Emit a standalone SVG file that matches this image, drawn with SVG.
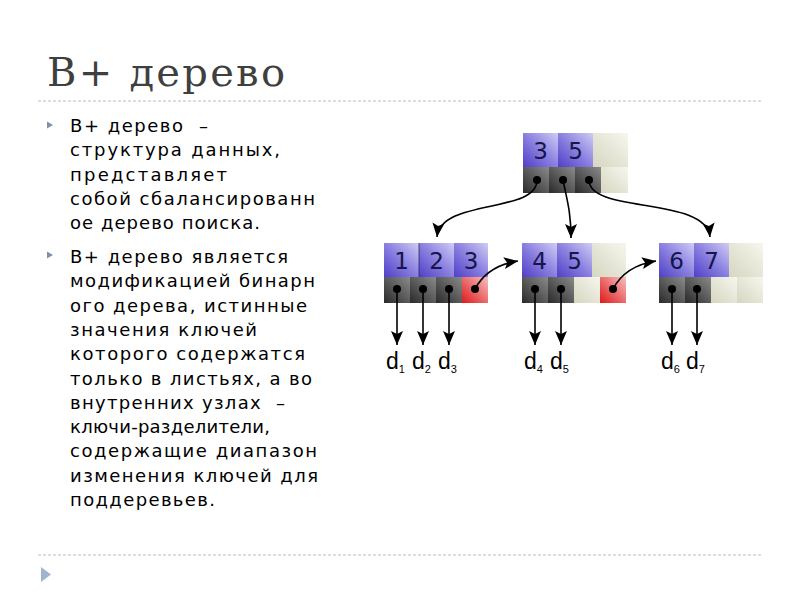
<svg xmlns="http://www.w3.org/2000/svg" width="800" height="600" viewBox="0 0 800 600">
<defs>
<linearGradient id="gKey" x1="0" y1="1" x2="1" y2="0">
<stop offset="0" stop-color="#4f3fc8"/><stop offset="0.5" stop-color="#8a80e0"/><stop offset="1" stop-color="#d0ccf4"/>
</linearGradient>
<linearGradient id="gEmpty" x1="0" y1="1" x2="1" y2="0">
<stop offset="0" stop-color="#d6d6c0"/><stop offset="1" stop-color="#f6f6ee"/>
</linearGradient>
<linearGradient id="gPtr" x1="0" y1="1" x2="1" y2="0">
<stop offset="0" stop-color="#2a2a2a"/><stop offset="1" stop-color="#8a8a8a"/>
</linearGradient>
<linearGradient id="gRed" x1="0" y1="1" x2="1" y2="0">
<stop offset="0" stop-color="#e01818"/><stop offset="1" stop-color="#f6c0c0"/>
</linearGradient>
<marker id="ah" viewBox="0 0 14 12" refX="14" refY="6" markerWidth="14" markerHeight="12" markerUnits="userSpaceOnUse" orient="auto">
<path d="M0,0 L14,6 L0,12 L3,6 Z" fill="#000"/>
</marker>
<style>
.title{font-family:"DejaVu Serif","Liberation Serif",serif;font-size:40px;fill:#3f3f3f}
.body{font-family:"DejaVu Sans","Noto Sans",sans-serif;font-size:18px;fill:#000}
.key{fill:url(#gKey)}
.emp{fill:url(#gEmpty)}
.ptr{fill:url(#gPtr)}
.red{fill:url(#gRed)}
.digit{font-family:"DejaVu Sans",sans-serif;font-size:23px;fill:#16164a;text-anchor:middle}
.dl{font-family:"Liberation Sans","Arial",sans-serif;font-size:23px;fill:#000}
.sub{font-size:11px}
.dash{stroke:#b4bccb;stroke-width:1;stroke-dasharray:3 2;fill:none}
.bul{fill:#8190a8}
.conn path{fill:none;stroke:#000;stroke-width:1.6;marker-end:url(#ah)}
.dot{fill:#000}
</style>
</defs>
<rect width="800" height="600" fill="#fff"/>

<text class="title" x="47" y="86" textLength="238" lengthAdjust="spacing">B+ дерево</text>
<line class="dash" x1="38" y1="101" x2="762" y2="101"/>
<line class="dash" x1="38" y1="555" x2="762" y2="555"/>
<polygon points="41,567 51,574.5 41,582" fill="#9fb4cf"/>

<polygon class="bul" points="47,121.5 53,125 47,128.5"/>
<polygon class="bul" points="47,251.5 53,255 47,258.5"/>

<g class="body">
<text x="70" y="132" textLength="138" lengthAdjust="spacing" xml:space="preserve">B+ дерево  –</text>
<text x="70" y="156" textLength="210" lengthAdjust="spacing">структура данных,</text>
<text x="70" y="180.5" textLength="157" lengthAdjust="spacing">представляет</text>
<text x="70" y="205" textLength="245" lengthAdjust="spacing">собой сбалансированн</text>
<text x="70" y="229" textLength="190" lengthAdjust="spacing">ое дерево поиска.</text>
<text x="70" y="263" textLength="218" lengthAdjust="spacing">B+ дерево является</text>
<text x="70" y="287.3" textLength="245" lengthAdjust="spacing">модификацией бинарн</text>
<text x="70" y="311.6" textLength="237" lengthAdjust="spacing">ого дерева, истинные</text>
<text x="70" y="335.9" textLength="187" lengthAdjust="spacing">значения ключей</text>
<text x="70" y="360.2" textLength="235" lengthAdjust="spacing">которого содержатся</text>
<text x="70" y="384.5" textLength="242" lengthAdjust="spacing">только в листьях, а во</text>
<text x="70" y="408.8" textLength="215" lengthAdjust="spacing" xml:space="preserve">внутренних узлах  –</text>
<text x="70" y="433.1" textLength="200" lengthAdjust="spacing">ключи-разделители,</text>
<text x="70" y="457.4" textLength="247" lengthAdjust="spacing">содержащие диапазон</text>
<text x="70" y="481.7" textLength="248" lengthAdjust="spacing">изменения ключей для</text>
<text x="70" y="506" textLength="145" lengthAdjust="spacing">поддеревьев.</text>
</g>

<g id="root">
<rect class="key" x="523" y="133" width="35" height="34"/>
<rect class="key" x="558" y="133" width="35" height="34"/>
<rect class="emp" x="593" y="133" width="35" height="34"/>
<rect class="ptr" x="523" y="167" width="26" height="26"/>
<rect class="ptr" x="549" y="167" width="26" height="26"/>
<rect class="ptr" x="575" y="167" width="26" height="26"/>
<rect class="emp" x="601" y="167" width="27" height="26"/>
<text class="digit" x="540.5" y="159">3</text>
<text class="digit" x="575.5" y="159">5</text>
</g>

<g id="leaf1">
<rect class="key" x="384" y="243" width="35" height="34"/>
<rect class="key" x="419" y="243" width="35" height="34"/>
<rect class="key" x="454" y="243" width="34" height="34"/>
<line x1="419" y1="243" x2="419" y2="277" stroke="#2a2a60" stroke-width="0.8"/>
<rect class="ptr" x="384" y="277" width="26" height="26"/>
<rect class="ptr" x="410" y="277" width="26" height="26"/>
<rect class="ptr" x="436" y="277" width="26" height="26"/>
<rect class="red" x="462" y="277" width="26" height="26"/>
<text class="digit" x="401.5" y="269">1</text>
<text class="digit" x="436.5" y="269">2</text>
<text class="digit" x="471" y="269">3</text>
</g>

<g id="leaf2">
<rect class="key" x="522" y="243" width="35" height="34"/>
<rect class="key" x="557" y="243" width="35" height="34"/>
<rect class="emp" x="592" y="243" width="34" height="34"/>
<rect class="ptr" x="522" y="277" width="26" height="26"/>
<rect class="ptr" x="548" y="277" width="26" height="26"/>
<rect class="emp" x="574" y="277" width="26" height="26"/>
<rect class="red" x="600" y="277" width="26" height="26"/>
<text class="digit" x="539.5" y="269">4</text>
<text class="digit" x="574.5" y="269">5</text>
</g>

<g id="leaf3">
<rect class="key" x="659" y="243" width="35" height="34"/>
<rect class="key" x="694" y="243" width="35" height="34"/>
<rect class="emp" x="729" y="243" width="34" height="34"/>
<rect class="ptr" x="659" y="277" width="26" height="26"/>
<rect class="ptr" x="685" y="277" width="26" height="26"/>
<rect class="emp" x="711" y="277" width="26" height="26"/>
<rect class="emp" x="737" y="277" width="26" height="26"/>
<text class="digit" x="676.5" y="269">6</text>
<text class="digit" x="711.5" y="269">7</text>
</g>

<g id="connectors" class="conn">
<path d="M537,180 C537,214 441,198 437,237"/>
<path d="M563,180 C567,200 571,212 571,238"/>
<path d="M589,180 C589,214 706,196 710,237"/>
<path d="M475,289 C484,272 498,264 518,261"/>
<path d="M613,289 C622,272 636,264 656,261"/>
<path d="M397,289 V345"/>
<path d="M423,289 V345"/>
<path d="M449,289 V345"/>
<path d="M535,289 V345"/>
<path d="M561,289 V345"/>
<path d="M672,289 V345"/>
<path d="M697,289 V345"/>
</g>

<g id="dots">
<circle class="dot" cx="537" cy="180" r="4"/>
<circle class="dot" cx="563" cy="180" r="4"/>
<circle class="dot" cx="589" cy="180" r="4"/>
<circle class="dot" cx="397" cy="289" r="4"/>
<circle class="dot" cx="423" cy="289" r="4"/>
<circle class="dot" cx="449" cy="289" r="4"/>
<circle class="dot" cx="475" cy="289" r="4"/>
<circle class="dot" cx="535" cy="289" r="4"/>
<circle class="dot" cx="561" cy="289" r="4"/>
<circle class="dot" cx="613" cy="289" r="4"/>
<circle class="dot" cx="672" cy="289" r="4"/>
<circle class="dot" cx="697" cy="289" r="4"/>
</g>

<g id="data-labels">
<text class="dl" x="386" y="369">d<tspan class="sub" dy="4">1</tspan></text>
<text class="dl" x="412" y="369">d<tspan class="sub" dy="4">2</tspan></text>
<text class="dl" x="438" y="369">d<tspan class="sub" dy="4">3</tspan></text>
<text class="dl" x="524" y="369">d<tspan class="sub" dy="4">4</tspan></text>
<text class="dl" x="550" y="369">d<tspan class="sub" dy="4">5</tspan></text>
<text class="dl" x="661" y="369">d<tspan class="sub" dy="4">6</tspan></text>
<text class="dl" x="686" y="369">d<tspan class="sub" dy="4">7</tspan></text>
</g>
</svg>
